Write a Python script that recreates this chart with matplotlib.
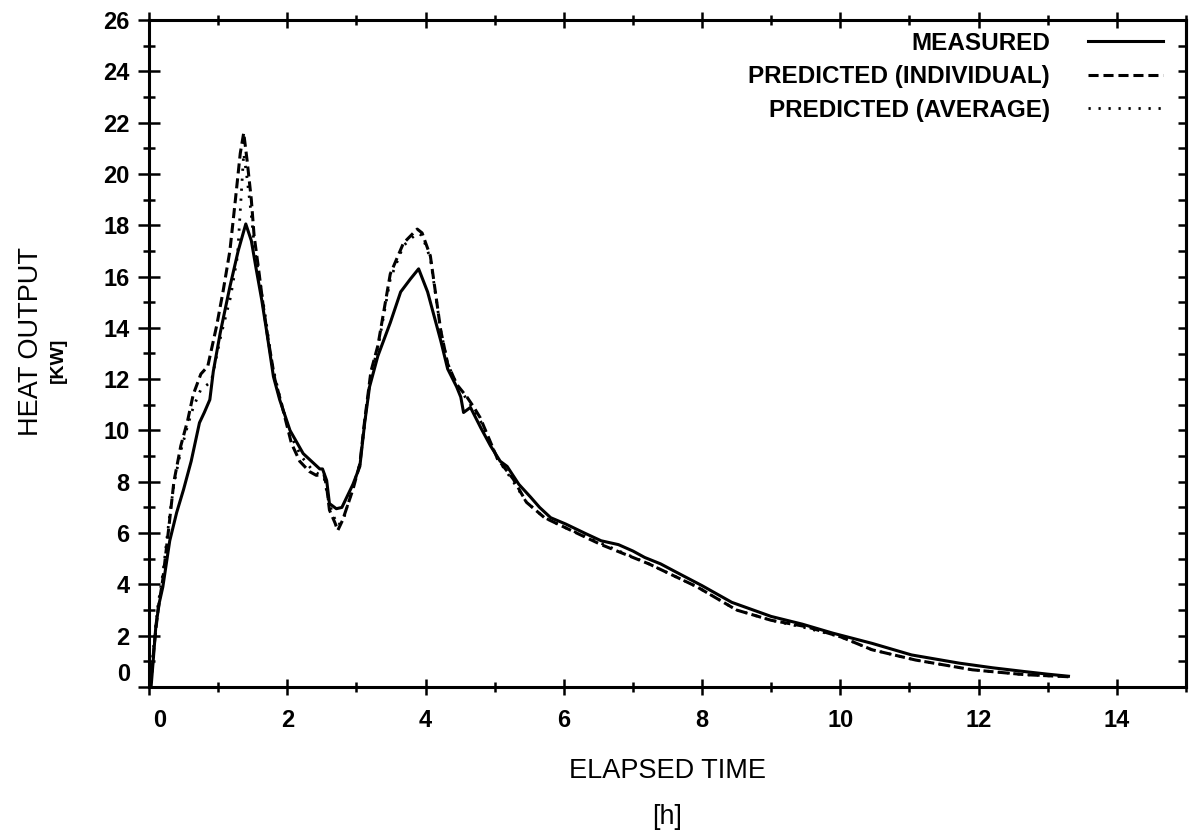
import matplotlib
matplotlib.use("Agg")
import matplotlib.pyplot as plt
from matplotlib.ticker import MultipleLocator, FixedLocator

# measured heat output [kW] vs elapsed time [h]
t_meas = [0.00, 0.03, 0.06, 0.10, 0.15, 0.20, 0.30, 0.40, 0.50, 0.61, 0.73, 0.80,
          0.88, 0.93, 1.03, 1.17, 1.29, 1.40, 1.48, 1.55, 1.63, 1.70, 1.80, 1.89,
          2.04, 2.23, 2.35, 2.47, 2.51, 2.57, 2.61, 2.71, 2.79, 2.95, 3.05, 3.12,
          3.19, 3.31, 3.49, 3.64, 3.78, 3.90, 4.03, 4.12, 4.22, 4.32, 4.45, 4.51,
          4.55, 4.65, 4.80, 4.94, 5.08, 5.18, 5.35, 5.52, 5.65, 5.81, 6.03, 6.30,
          6.54, 6.79, 7.00, 7.17, 7.40, 7.61, 8.00, 8.43, 9.00, 9.45, 9.89, 10.46,
          11.03, 11.72, 12.20, 12.67, 13.00, 13.30]
p_meas = [0.0, 0.0, 1.0, 2.4, 3.3, 3.9, 5.7, 6.8, 7.7, 8.8, 10.3, 10.7,
          11.2, 12.3, 13.8, 15.6, 17.0, 18.05, 17.4, 16.3, 15.1, 13.9, 12.1, 11.2,
          10.0, 9.1, 8.8, 8.5, 8.5, 8.05, 7.15, 6.95, 7.0, 7.9, 8.6, 10.3,
          11.7, 12.9, 14.2, 15.4, 15.9, 16.3, 15.4, 14.5, 13.5, 12.4, 11.7, 11.3,
          10.7, 10.9, 10.1, 9.4, 8.8, 8.6, 7.9, 7.4, 7.0, 6.6, 6.35, 6.0,
          5.7, 5.55, 5.3, 5.05, 4.8, 4.5, 3.95, 3.3, 2.75, 2.45, 2.1, 1.7,
          1.25, 0.93, 0.75, 0.6, 0.5, 0.42]

# predicted, individual parameters
t_ind = [0.00, 0.03, 0.07, 0.13, 0.20, 0.29, 0.36, 0.46, 0.56, 0.64, 0.75, 0.85,
         0.98, 1.07, 1.17, 1.25, 1.32, 1.37, 1.42, 1.48, 1.52, 1.58, 1.65, 1.72,
         1.82, 1.92, 2.06, 2.18, 2.32, 2.42, 2.53, 2.57, 2.61, 2.69, 2.73, 2.80,
         2.95, 3.05, 3.12, 3.21, 3.31, 3.49, 3.68, 3.88, 3.95, 4.07, 4.22, 4.32,
         4.45, 4.60, 4.70, 4.79, 5.04, 5.27, 5.46, 5.72, 6.03, 6.54, 7.23, 7.93,
         8.50, 9.00, 9.51, 10.01, 10.46, 11.09, 11.91, 12.67, 13.30]
p_ind = [0.0, 0.2, 1.5, 3.0, 4.2, 6.3, 8.0, 9.4, 10.4, 11.4, 12.2, 12.5,
         14.1, 15.4, 17.0, 19.0, 20.8, 21.6, 20.5, 19.0, 17.6, 16.4, 14.9, 13.6,
         12.0, 11.0, 9.5, 8.8, 8.4, 8.25, 8.3, 7.8, 6.9, 6.4, 6.1, 6.5,
         7.7, 8.7, 10.4, 12.3, 13.3, 16.1, 17.3, 17.85, 17.7, 16.8, 13.9, 12.6,
         11.8, 11.3, 10.9, 10.5, 8.9, 8.1, 7.2, 6.6, 6.2, 5.55, 4.8, 3.9,
         3.0, 2.6, 2.35, 1.95, 1.45, 1.05, 0.67, 0.48, 0.40]

# predicted, average parameters
t_avg = [0.00, 0.03, 0.07, 0.13, 0.20, 0.29, 0.36, 0.46, 0.56, 0.64, 0.75, 0.90,
         1.04, 1.18, 1.28, 1.33, 1.37, 1.42, 1.48, 1.53, 1.60, 1.68, 1.78, 1.90,
         2.05, 2.20, 2.35, 2.45, 2.53, 2.60, 2.68, 2.74, 2.82, 2.95, 3.05, 3.12,
         3.21, 3.31, 3.49, 3.68, 3.88, 3.95, 4.07, 4.22, 4.32, 4.45, 4.60, 4.70,
         4.79, 5.04, 5.27, 5.46, 5.72, 6.03, 6.54, 7.23, 7.93, 8.50, 9.00, 9.51,
         10.01, 10.46, 11.09, 11.91, 12.67, 13.30]
p_avg = [0.0, 0.3, 1.7, 3.2, 4.4, 6.5, 7.9, 9.2, 10.2, 10.9, 11.6, 11.9,
         13.7, 15.2, 16.8, 19.0, 20.8, 19.8, 18.4, 17.0, 15.9, 14.5, 12.6, 11.2,
         9.8, 9.0, 8.5, 8.3, 8.2, 7.2, 6.6, 6.3, 6.6, 7.8, 8.7, 10.3,
         12.2, 13.2, 15.9, 17.2, 17.7, 17.6, 16.7, 13.9, 12.6, 11.8, 11.2, 10.8,
         10.4, 8.9, 8.0, 7.2, 6.6, 6.2, 5.6, 4.8, 3.9, 3.0, 2.6, 2.3,
         1.95, 1.45, 1.05, 0.67, 0.48, 0.40]

x_major = [0, 2, 4, 6, 8, 10, 12, 14]
y_major = [0, 2, 4, 6, 8, 10, 12, 14, 16, 18, 20, 22, 24, 26]

FONT = ["Liberation Sans", "DejaVu Sans"]
plt.rcParams["font.family"] = FONT

W, H = 1189, 839
fig = plt.figure(figsize=(W / 100, H / 100), dpi=100)
ax = fig.add_axes([149 / W, 1 - 687 / H, (1186 - 149) / W, (687 - 20) / H])

LW = 2.2
ax.plot(t_meas, p_meas, color="black", lw=LW, solid_joinstyle="round",
        label="MEASURED")
ax.plot(t_ind, p_ind, color="black", lw=LW, linestyle=(0, (3.3, 1.6)),
        label="PREDICTED (INDIVIDUAL)")
ax.plot(t_avg, p_avg, color="black", lw=2.0, linestyle=(0, (0.8, 2.8)),
        label="PREDICTED (AVERAGE)")

ax.set_xlim(0, 15)
ax.set_ylim(0, 26)

ax.xaxis.set_major_locator(FixedLocator(x_major))
ax.xaxis.set_minor_locator(MultipleLocator(1))
ax.yaxis.set_major_locator(FixedLocator(y_major))
ax.yaxis.set_minor_locator(MultipleLocator(1))
ax.set_xticklabels([""] + [str(v) for v in x_major[1:]])
ax.set_yticklabels([""] + [str(v) for v in y_major[1:]])

TICK_SIZE = 17
tick_font = dict(family=FONT, size=TICK_SIZE, weight="bold")
ax.tick_params(axis="x", which="major", direction="inout", length=11.5,
               width=1.8, pad=10.0, top=True, labelsize=TICK_SIZE)
ax.tick_params(axis="x", which="minor", direction="inout", length=7.2,
               width=1.8, top=True)
ax.tick_params(axis="y", which="major", direction="inout", length=15.8,
               width=1.8, pad=6.0, labelsize=TICK_SIZE)
ax.tick_params(axis="y", which="minor", direction="inout", length=8,
               width=1.8)
for lab in ax.get_xticklabels() + ax.get_yticklabels():
    lab.set_fontweight("bold")

# right-hand ticks point inward only
sec = ax.secondary_yaxis("right")
sec.yaxis.set_major_locator(MultipleLocator(1))
sec.tick_params(direction="in", length=5.8, width=1.8, labelright=False)
sec.spines["right"].set_linewidth(2.2)

for s in ax.spines.values():
    s.set_linewidth(2.2)

# the "0" labels sit slightly off the origin, as in the original
ax.annotate("0", xy=(0, 0), xytext=(11, -22), textcoords="offset pixels",
            ha="center", va="top", **tick_font)
ax.annotate("0", xy=(0, 0), xytext=(-19, 15), textcoords="offset pixels",
            ha="right", va="center_baseline", **tick_font)

fig.text(667 / W, 1 - 771.5 / H, "ELAPSED TIME", ha="center", va="center",
         fontsize=19.5)
fig.text(667 / W, 1 - 817 / H, "[h]", ha="center", va="center", fontsize=19.5)
fig.text(31 / W, 1 - 342 / H, "HEAT OUTPUT", ha="center", va="center",
         rotation=90, fontsize=19.5)
fig.text(58 / W, 1 - 360 / H, "[KW]", ha="center", va="center",
         rotation=90, fontsize=14, weight="bold")

ax.legend(loc="upper right", bbox_to_anchor=(0.9778, 0.982), markerfirst=False,
          frameon=False, borderpad=0, borderaxespad=0, handlelength=3.1,
          handletextpad=1.55, labelspacing=0.43,
          prop=dict(family=FONT, size=17.5, weight="bold"))

fig.savefig("out.png", dpi=100, facecolor="white")
